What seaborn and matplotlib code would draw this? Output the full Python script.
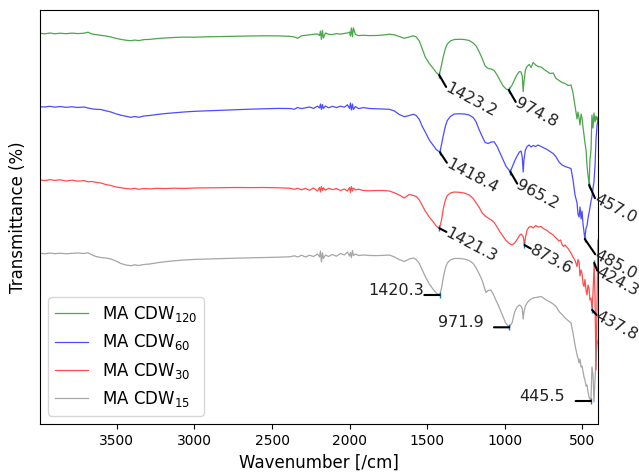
import matplotlib
matplotlib.use("Agg")
import matplotlib.pyplot as plt
import seaborn as sns
import pandas as pd

# ---- FTIR spectra (stacked, offset transmittance in arbitrary units) ----
wn_120 = [3995, 3963, 3931, 3899, 3866, 3828, 3789, 3751, 3712, 3686, 3661, 3635, 3603, 3571, 3538,
          3506, 3474, 3442, 3410, 3384, 3358, 3326, 3288, 3242, 3191, 3133, 3069, 2998, 2915, 2825,
          2735, 2645, 2554, 2464, 2387, 2355, 2336, 2310, 2284, 2259, 2233, 2207, 2194, 2188, 2182,
          2175, 2169, 2156, 2136, 2111, 2085, 2059, 2034, 2014, 2001, 1995, 1989, 1982, 1976, 1963,
          1943, 1911, 1873, 1828, 1783, 1744, 1712, 1680, 1648, 1616, 1590, 1571, 1551, 1532, 1513,
          1487, 1461, 1442, 1423.2, 1408, 1396, 1383, 1371, 1351, 1326, 1294, 1262, 1230, 1204, 1185,
          1165, 1146, 1127, 1108, 1088, 1069, 1050, 1031, 1011, 992, 974.8, 953, 937, 921, 906,
          896, 888, 882, 877, 868, 857, 844, 831, 818, 802, 786, 767, 747, 728, 709,
          689, 670, 651, 632, 612, 593, 574, 561, 548, 535, 529, 522, 516, 509, 503,
          496, 490, 484, 477, 471, 464, 457.0, 452, 445, 439, 432, 426, 419, 413, 406, 400]
t_120 = [390.7, 390.2, 391.0, 390.2, 390.8, 390.3, 390.9, 390.4, 390.8, 391.8, 390.0, 389.4, 388.6, 388.0, 387.0,
         385.7, 384.6, 383.8, 383.3, 383.9, 383.4, 384.4, 384.6, 385.4, 386.0, 386.5, 386.9, 386.8, 387.2, 387.5,
         387.8, 388.0, 388.2, 388.1, 387.7, 387.0, 385.7, 388.2, 388.7, 389.2, 389.7, 390.0, 388.5, 393.0, 384.5,
         393.5, 386.0, 391.0, 389.7, 389.4, 390.4, 389.8, 390.6, 391.0, 392.0, 388.0, 396.0, 387.2, 396.2, 389.5,
         388.4, 388.7, 388.4, 388.5, 389.0, 389.8, 389.2, 387.5, 385.7, 387.0, 388.2, 387.0, 383.0, 375.0, 367.0,
         360.5, 355.5, 351.5, 349.0, 359.0, 368.0, 375.5, 380.0, 383.0, 384.5, 384.7, 384.5, 383.5, 381.0, 378.0,
         372.0, 365.5, 358.0, 355.5, 355.0, 353.5, 349.0, 343.5, 338.0, 335.0, 334.0, 339.0, 344.5, 349.5, 352.5,
         352.0, 348.0, 332.5, 342.0, 354.0, 357.5, 359.5, 356.5, 361.5, 359.0, 357.5, 357.0, 354.5, 352.5, 350.5,
         351.0, 345.5, 343.5, 341.5, 340.5, 338.5, 339.0, 331.0, 318.0, 305.0, 312.0, 306.0, 299.0, 310.0, 306.0,
         296.0, 289.0, 281.0, 274.0, 259.0, 248.0, 239.0, 264.0, 274.0, 309.0, 296.0, 311.0, 302.0, 308.0, 304.0, 307.0]

wn_60 = [3995, 3963, 3931, 3899, 3866, 3828, 3789, 3751, 3712, 3686, 3661, 3635, 3603, 3571, 3538,
         3506, 3474, 3442, 3410, 3384, 3358, 3326, 3288, 3242, 3191, 3133, 3069, 2998, 2915, 2825,
         2735, 2645, 2554, 2464, 2387, 2355, 2336, 2310, 2284, 2259, 2233, 2207, 2194, 2188, 2182,
         2175, 2169, 2156, 2136, 2111, 2085, 2059, 2034, 2014, 2001, 1995, 1989, 1982, 1976, 1963,
         1943, 1911, 1873, 1828, 1783, 1744, 1712, 1680, 1648, 1616, 1590, 1571, 1551, 1532, 1513,
         1487, 1461, 1442, 1418.4, 1408, 1396, 1383, 1371, 1351, 1326, 1294, 1262, 1230, 1204, 1185,
         1165, 1146, 1127, 1108, 1088, 1069, 1050, 1031, 1011, 992, 965.2, 953, 937, 921, 906,
         896, 888, 882, 877, 868, 857, 844, 831, 818, 802, 786, 767, 747, 728, 709,
         689, 670, 651, 632, 612, 593, 574, 561, 548, 535, 529, 522, 516, 509, 503,
         496, 490, 485.0, 477, 471, 464, 458, 452, 445, 439, 432, 426, 419, 413, 406, 400]
t_60 = [317.3, 317.0, 317.7, 316.8, 317.5, 316.7, 317.2, 316.5, 317.0, 316.0, 315.2, 314.7, 314.5, 313.2, 312.0,
        310.2, 308.8, 307.7, 306.7, 307.5, 306.7, 308.0, 308.5, 309.5, 310.4, 311.2, 312.0, 312.7, 313.2, 313.8,
        314.3, 314.8, 315.2, 315.6, 315.5, 314.8, 316.5, 315.4, 316.2, 317.0, 315.6, 317.8, 316.0, 320.0, 314.5,
        319.5, 315.5, 318.0, 316.2, 317.7, 316.4, 317.8, 316.8, 319.2, 315.5, 321.0, 314.0, 320.0, 314.5, 317.5,
        315.4, 316.4, 315.5, 315.2, 315.0, 314.7, 313.0, 309.5, 307.3, 308.5, 309.7, 308.5, 304.5, 297.5, 292.0,
        284.0, 278.5, 274.5, 271.7, 280.0, 289.0, 298.0, 303.5, 307.5, 310.0, 310.2, 310.0, 309.0, 306.5, 302.0,
        294.0, 287.5, 281.5, 280.5, 282.0, 282.2, 277.5, 271.0, 264.0, 257.5, 252.3, 257.0, 263.0, 268.0, 272.0,
        273.0, 267.0, 252.0, 264.0, 274.0, 277.5, 279.0, 277.0, 278.5, 277.5, 279.0, 277.5, 276.0, 274.5, 272.5,
        270.5, 267.0, 262.0, 259.0, 257.5, 256.5, 255.5, 244.0, 229.0, 221.0, 210.0, 207.0, 217.0, 205.0, 213.0,
        199.0, 192.0, 185.0, 196.0, 198.0, 206.0, 211.0, 216.0, 223.0, 227.0, 236.0, 242.0, 259.0, 284.0, 299.0, 304.0]

wn_30 = [3995, 3963, 3931, 3899, 3866, 3828, 3789, 3751, 3712, 3686, 3661, 3635, 3603, 3571, 3538,
         3506, 3474, 3442, 3410, 3384, 3358, 3326, 3288, 3242, 3191, 3133, 3069, 2998, 2915, 2825,
         2735, 2645, 2554, 2464, 2387, 2355, 2336, 2310, 2284, 2259, 2233, 2207, 2194, 2188, 2182,
         2175, 2169, 2156, 2136, 2111, 2085, 2059, 2034, 2014, 2001, 1995, 1989, 1982, 1976, 1963,
         1943, 1911, 1873, 1828, 1783, 1744, 1712, 1680, 1648, 1616, 1590, 1571, 1551, 1532, 1513,
         1487, 1461, 1442, 1421.3, 1408, 1396, 1383, 1371, 1351, 1326, 1294, 1262, 1230, 1204, 1185,
         1165, 1146, 1127, 1108, 1088, 1069, 1050, 1031, 1011, 992, 972, 953, 937, 921, 906,
         896, 882, 873.6, 868, 857, 844, 831, 818, 802, 786, 767, 747, 728, 709, 689,
         670, 651, 641, 632, 622, 612, 593, 574, 561, 548, 535, 529, 522, 516, 509,
         503, 496, 490, 484, 477, 471, 464, 458, 452, 445, 437.8, 432, 424.3, 419, 413, 406, 400]
t_30 = [244.0, 243.4, 244.4, 243.6, 244.2, 243.0, 243.8, 242.8, 243.4, 242.2, 242.5, 241.7, 241.0, 239.5, 238.5,
        237.0, 236.2, 235.5, 235.0, 235.7, 234.7, 235.5, 235.1, 235.7, 235.4, 235.8, 235.5, 236.0, 236.1, 236.3,
        236.5, 236.4, 236.5, 236.2, 235.8, 234.7, 235.7, 234.2, 235.6, 233.8, 236.0, 233.0, 236.5, 232.0, 237.5,
        233.5, 236.2, 233.8, 235.7, 234.4, 235.4, 233.5, 235.0, 233.0, 236.5, 231.5, 237.5, 233.0, 236.0, 234.0,
        234.8, 233.5, 233.2, 233.5, 233.5, 233.0, 231.2, 229.0, 226.0, 229.5, 228.5, 227.5, 224.0, 218.5, 213.0,
        207.0, 202.0, 198.0, 195.7, 204.0, 216.0, 224.0, 228.5, 231.0, 232.0, 231.7, 231.0, 229.0, 225.5, 221.0,
        216.5, 211.0, 208.0, 206.0, 204.0, 201.5, 197.0, 192.0, 187.5, 183.5, 180.5, 179.0, 181.0, 184.5, 188.5,
        190.0, 187.5, 179.0, 186.0, 194.0, 197.0, 197.5, 196.0, 198.5, 197.0, 197.5, 195.0, 193.5, 191.0, 189.0,
        186.0, 183.0, 184.0, 179.5, 177.5, 179.0, 175.5, 171.0, 167.0, 163.5, 157.5, 164.5, 162.0, 148.0, 154.0,
        150.5, 140.0, 137.5, 144.5, 134.0, 129.0, 139.0, 136.0, 124.0, 126.0, 114.0, 132.0, 161.0, 124.0, 54.0, 124.0, 184.0]

wn_15 = [3995, 3963, 3931, 3899, 3866, 3828, 3789, 3751, 3712, 3686, 3661, 3635, 3603, 3571, 3538,
         3506, 3474, 3442, 3410, 3384, 3358, 3326, 3288, 3242, 3191, 3133, 3069, 2998, 2915, 2825,
         2735, 2645, 2554, 2464, 2387, 2355, 2336, 2310, 2284, 2259, 2233, 2207, 2194, 2188, 2182,
         2175, 2169, 2156, 2136, 2111, 2085, 2059, 2034, 2014, 2001, 1995, 1989, 1982, 1976, 1963,
         1943, 1911, 1873, 1828, 1783, 1744, 1712, 1680, 1648, 1616, 1590, 1571, 1551, 1532, 1513,
         1487, 1461, 1442, 1420.3, 1408, 1396, 1383, 1371, 1351, 1326, 1294, 1262, 1230, 1204, 1185,
         1165, 1146, 1122, 1108, 1091, 1075, 1058, 1043, 1026, 1011, 995, 971.9, 953, 937, 921,
         906, 896, 888, 882, 877, 868, 857, 844, 831, 818, 802, 786, 767, 747, 728,
         709, 689, 670, 651, 632, 612, 593, 574, 561, 548, 535, 529, 522, 516, 509,
         503, 496, 490, 484, 477, 471, 464, 458, 445.5, 439, 432, 426, 419, 413, 406, 400]
t_15 = [170.7, 170.2, 171.0, 170.3, 170.8, 170.2, 170.7, 171.0, 170.5, 171.2, 169.2, 167.5, 166.5, 166.0, 165.0,
        163.0, 160.5, 159.0, 158.3, 159.2, 158.5, 159.5, 160.0, 161.2, 162.2, 163.2, 164.0, 164.6, 165.0, 165.5,
        165.8, 166.1, 166.5, 166.8, 167.2, 168.2, 167.0, 168.7, 167.0, 168.8, 167.5, 170.0, 167.0, 173.0, 162.0,
        171.2, 165.5, 169.0, 167.5, 169.5, 167.8, 170.5, 169.0, 172.0, 168.0, 171.5, 166.5, 173.5, 168.5, 170.0,
        168.5, 169.0, 168.5, 168.4, 168.6, 169.0, 167.0, 164.5, 162.5, 165.0, 166.0, 164.5, 160.5, 154.0, 147.5,
        140.0, 134.5, 131.0, 129.0, 136.0, 147.0, 156.0, 161.0, 164.0, 165.5, 165.5, 165.0, 163.5, 160.5, 156.0,
        150.0, 143.5, 131.5, 133.5, 134.0, 130.0, 124.0, 119.0, 112.5, 107.0, 101.0, 96.7, 101.5, 112.0, 117.0,
        119.0, 118.0, 115.0, 105.0, 112.0, 118.0, 121.0, 123.5, 125.0, 126.0, 126.5, 127.0, 127.5, 125.5, 123.5,
        122.0, 120.0, 117.5, 112.5, 109.5, 106.0, 103.5, 101.0, 91.0, 79.0, 69.0, 66.0, 61.0, 65.0, 57.0,
        58.0, 52.0, 47.0, 44.0, 38.0, 39.0, 32.0, 27.0, 23.0, 57.0, 49.0, 22.0, 44.0, 64.0, 79.0, 84.0]

# labelled band positions (cm^-1) for each spectrum
peaks_120 = [1423.2, 974.8, 457.0]
peaks_60 = [1418.4, 965.2, 485.0]
peaks_30 = [1421.3, 873.6, 424.3, 437.8]
peaks_15 = [1420.3, 971.9, 445.5]

series_names = ["MA CDW$_{120}$", "MA CDW$_{60}$", "MA CDW$_{30}$", "MA CDW$_{15}$"]
series_colors = ["green", "blue", "red", "gray"]

spectra = [(wn_120, t_120, peaks_120), (wn_60, t_60, peaks_60),
           (wn_30, t_30, peaks_30), (wn_15, t_15, peaks_15)]

# label leader offsets in points (rotated labels for the upper three, flat for the lowest)
label_offsets = [
    [(5, -8.6), (5, -8.6), (4.2, -9.5)],
    [(5, -7.5), (5, -8.6), (7.5, -11)],
    [(5, -2.6), (4.5, -2.6), (2.2, -5.5), (3.2, -3.6)],
]
flat_line = -11
flat_text = [-11, -18, -19]

fig = plt.figure(figsize=(6.39, 4.76), dpi=100)
ax = fig.add_axes([40 / 639, 1 - 424 / 476, (598 - 40) / 639, (424 - 9.5) / 476])

for (wn, tr, peaks), name, color in zip(spectra, series_names, series_colors):
    df = pd.DataFrame({"wavenumber": wn, "transmittance": tr})
    sns.lineplot(data=df, x="wavenumber", y="transmittance", ax=ax, color=color,
                 lw=0.9, alpha=0.7, label=name, sort=False, estimator=None, legend=False)

for idx, (wn, tr, peaks) in enumerate(spectra):
    lookup = dict(zip(wn, tr))
    pk_y = [lookup[p] for p in peaks]
    ax.plot(peaks, pk_y, "|", color="C0", ms=5, mew=1)
    for j, (p, py) in enumerate(zip(peaks, pk_y)):
        label = f"{p:.1f}"
        if idx < 3:
            dx, dy = label_offsets[idx][j]
            ax.annotate("", xy=(p, py), xytext=(dx, dy), textcoords="offset points",
                        arrowprops=dict(arrowstyle="-", color="black", lw=1.5,
                                        shrinkA=0, shrinkB=0, patchA=None))
            ax.annotate(label, xy=(p, py), xytext=(dx, dy), textcoords="offset points",
                        rotation=-28, rotation_mode="anchor", ha="left", va="center",
                        fontsize=11.5, color="#222222", annotation_clip=False)
        else:
            ax.annotate("", xy=(p, py), xytext=(flat_line, 0), textcoords="offset points",
                        arrowprops=dict(arrowstyle="-", color="black", lw=1.5,
                                        shrinkA=0, shrinkB=0, patchA=None))
            ax.annotate(label, xy=(p, py), xytext=(flat_text[j], 0), textcoords="offset points",
                        ha="right", va="baseline", fontsize=11.5, color="#222222",
                        annotation_clip=False)

ax.set_xlim(max(wn_120), min(wn_120))
ax.set_ylim(0, 414.5)
ax.set_yticks([])
ax.set_xticks([3500, 3000, 2500, 2000, 1500, 1000, 500])
ax.tick_params(axis="x", labelsize=10)
ax.set_xlabel("Wavenumber [/cm]", fontsize=12)
ax.set_ylabel("Transmittance (%)", fontsize=12, labelpad=9)
ax.legend(loc="lower left", fontsize=12)

fig.savefig("out.png", dpi=100)
